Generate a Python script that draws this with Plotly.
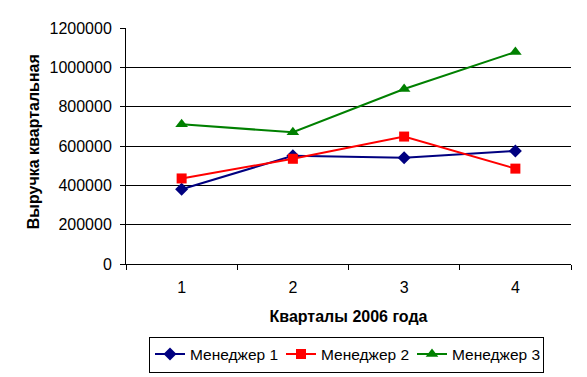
import plotly.graph_objects as go

quarters = ["1", "2", "3", "4"]
manager1 = [380000, 550000, 540000, 575000]
manager2 = [435000, 535000, 648000, 485000]
manager3 = [710000, 670000, 890000, 1078000]
series_names = ["Менеджер 1", "Менеджер 2", "Менеджер 3"]
y_ticks = [0, 200000, 400000, 600000, 800000, 1000000, 1200000]

FONT = "Arial, Liberation Sans, sans-serif"
OFF = 8  # page body margin offset
W, H = 587 - OFF, 377 - OFF

fig = go.Figure()
styles = [
    ("#000080", "diamond", 10),
    ("#FF0000", "square", 10),
    ("#008000", "triangle-up", 11),
]
for name, vals, (col, sym, sz) in zip(series_names, [manager1, manager2, manager3], styles):
    fig.add_trace(go.Scatter(
        x=quarters, y=vals, name=name, mode="lines+markers",
        line=dict(color=col, width=2),
        marker=dict(symbol=sym, size=sz, color=col),
    ))

L, T = 126 - OFF, 28 - OFF
PW, PH = 445, 236
fig.update_layout(
    width=W, height=H,
    margin=dict(l=L, r=W - L - PW, t=T, b=H - T - PH, autoexpand=False),
    paper_bgcolor="white", plot_bgcolor="white",
    font=dict(family=FONT, size=16, color="black"),
    showlegend=True,
    legend=dict(
        orientation="h",
        xref="container", yref="container",
        x=(149 - OFF) / W, xanchor="left", y=1 - (354.5 - OFF) / H, yanchor="middle",
        bordercolor="black", borderwidth=1, bgcolor="white",
        font=dict(family=FONT, size=15.5, color="black"),
        entrywidth=86, entrywidthmode="pixels",
        itemwidth=30, tracegroupgap=0,
    ),
    xaxis=dict(
        type="category", range=[-0.5, 3.5],
        tickson="boundaries", ticks="outside", ticklen=5, tickcolor="black",
        showline=True, linecolor="black", linewidth=1,
        showgrid=False, zeroline=False, ticklabelstandoff=9,
        tickfont=dict(family=FONT, size=16, color="black"),
        title=dict(text="<b>Кварталы 2006 года</b>", font=dict(family=FONT, size=16, color="black"), standoff=15),
    ),
    yaxis=dict(
        range=[0, 1200000], tickvals=y_ticks, tickformat="d",
        ticks="outside", ticklen=5, tickcolor="black",
        showline=True, linecolor="black", linewidth=1,
        showgrid=True, gridcolor="black", gridwidth=1,
        zeroline=False, ticklabelstandoff=5,
        tickfont=dict(family=FONT, size=16, color="black"),
    ),
)

fig.add_annotation(
    text="<b>Выручка квартальная</b>", textangle=-90,
    xref="paper", yref="paper", x=(33 - 126) / PW, y=(264.3 - 232) / PH,
    xanchor="center", yanchor="bottom", showarrow=False,
    font=dict(family=FONT, size=16, color="black"),
)

fig.write_html("out.html")
